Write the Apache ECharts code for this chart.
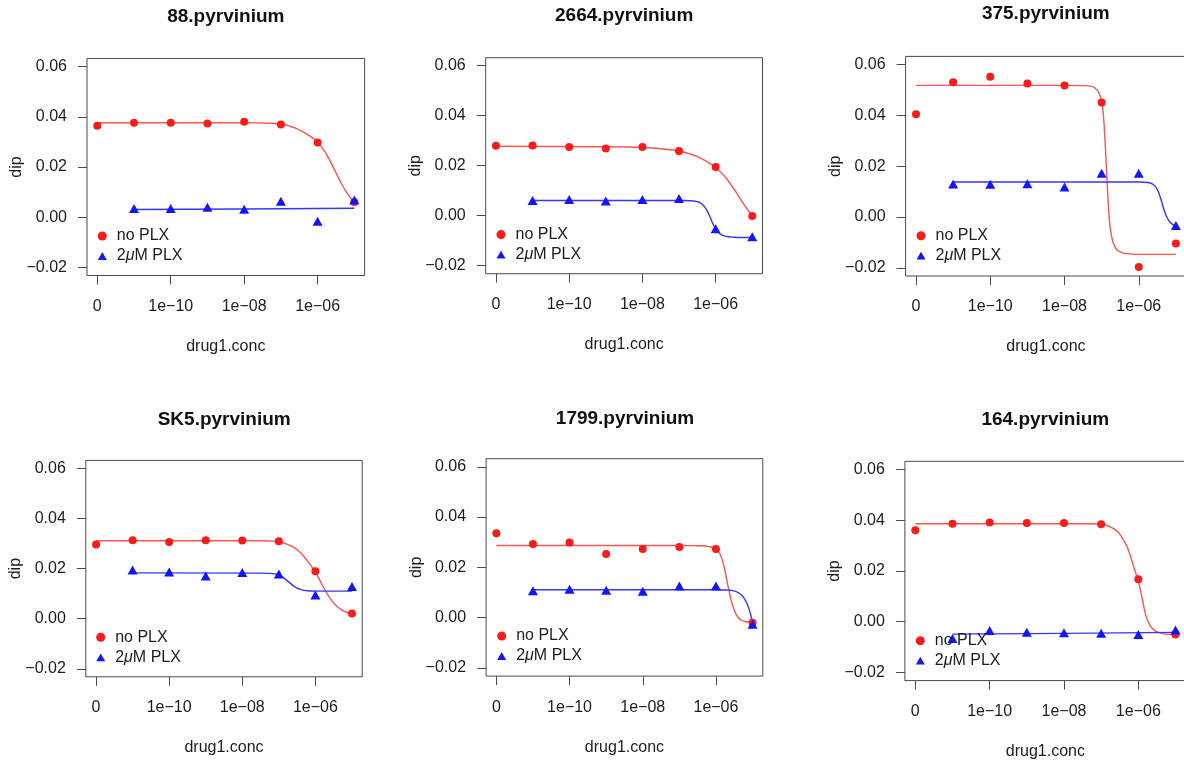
<!DOCTYPE html>
<html>
<head>
<meta charset="utf-8">
<title>pyrvinium dose response</title>
<script src="https://cdn.jsdelivr.net/npm/echarts@6/dist/echarts.min.js"></script>
<style>
  html, body { margin: 0; padding: 0; background: #ffffff; }
  #chart { width: 1184px; height: 763px; }
</style>
</head>
<body>
<div id="chart"></div>
<script>
// log10 of drug concentration; the zero dose is drawn one decade below the lowest dose
const xLogPos = [-12, -11, -10, -9, -8, -7, -6, -5];
const xTickPos = [-12, -10, -8, -6];
const xTickLabels = ['0', '1e\u221210', '1e\u221208', '1e\u221206'];
const yTickVals = [-0.02, 0, 0.02, 0.04, 0.06];

const panelTitles = ['88.pyrvinium', '2664.pyrvinium', '375.pyrvinium',
                     'SK5.pyrvinium', '1799.pyrvinium', '164.pyrvinium'];

// measured DIP rates (no PLX has a zero-dose point, 2uM PLX does not)
const dip_88_noPLX   = [0.0364, 0.0376, 0.0376, 0.0373, 0.0380, 0.0369, 0.0298, 0.0061];
const dip_88_PLX     = [null, 0.0035, 0.0035, 0.0040, 0.0032, 0.0064, -0.0016, 0.0069];
const dip_2664_noPLX = [0.0280, 0.0281, 0.0275, 0.0269, 0.0275, 0.0259, 0.0195, -0.0001];
const dip_2664_PLX   = [null, 0.0061, 0.0065, 0.0059, 0.0065, 0.0069, -0.0052, -0.0084];
const dip_375_noPLX  = [0.0404, 0.0530, 0.0552, 0.0525, 0.0518, 0.0451, -0.0197, -0.0104];
const dip_375_PLX    = [null, 0.0130, 0.0129, 0.0131, 0.0118, 0.0172, 0.0172, -0.0033];
const dip_SK5_noPLX  = [0.0296, 0.0313, 0.0306, 0.0313, 0.0312, 0.0309, 0.0189, 0.0021];
const dip_SK5_PLX    = [null, 0.0194, 0.0186, 0.0170, 0.0184, 0.0178, 0.0095, 0.0129];
const dip_1799_noPLX = [0.0336, 0.0293, 0.0299, 0.0253, 0.0273, 0.0281, 0.0273, -0.0020];
const dip_1799_PLX   = [null, 0.0107, 0.0113, 0.0109, 0.0105, 0.0126, 0.0126, -0.0026];
const dip_164_noPLX  = [0.0360, 0.0386, 0.0391, 0.0389, 0.0389, 0.0384, 0.0167, -0.0050];
const dip_164_PLX    = [null, -0.0066, -0.0035, -0.0042, -0.0043, -0.0045, -0.0050, -0.0033];

// fitted dose-response curves, sampled as [log10 conc, dip]
const fit_88_noPLX = [[-12, 0.0376], [-8, 0.0376], [-7.5, 0.0375], [-7.25, 0.0374], [-7, 0.0371],
  [-6.75, 0.0362], [-6.5, 0.0348], [-6.25, 0.0327], [-6, 0.0299], [-5.75, 0.0248], [-5.5, 0.0177],
  [-5.25, 0.0108], [-5, 0.0058]];
const fit_88_PLX = [[-11, 0.0031], [-8, 0.0033], [-5, 0.0036]];

const fit_2664_noPLX = [[-12, 0.0278], [-9, 0.0276], [-8.5, 0.0275], [-8, 0.0273], [-7.75, 0.0271],
  [-7.5, 0.0268], [-7.25, 0.0264], [-7, 0.0259], [-6.75, 0.0249], [-6.5, 0.0236], [-6.25, 0.0217],
  [-6, 0.0193], [-5.75, 0.0157], [-5.5, 0.0107], [-5.25, 0.0050], [-5, -0.0002]];
const fit_2664_PLX = [[-11, 0.0061], [-7, 0.0061], [-6.75, 0.0060], [-6.6, 0.0059], [-6.5, 0.0056],
  [-6.4, 0.0050], [-6.3, 0.0035], [-6.2, 0.0010], [-6.1, -0.0024], [-6.0, -0.0052], [-5.9, -0.0070],
  [-5.8, -0.0079], [-5.7, -0.0083], [-5.5, -0.0086], [-5.25, -0.0087], [-5, -0.0087]];

const fit_375_noPLX = [[-12, 0.0518], [-8, 0.0518], [-7.5, 0.0517], [-7.25, 0.0513], [-7.15, 0.0503],
  [-7.07, 0.0487], [-7.0, 0.0455], [-6.95, 0.0395], [-6.9, 0.0275], [-6.85, 0.0130], [-6.8, 0.0005],
  [-6.75, -0.0060], [-6.65, -0.0115], [-6.5, -0.0137], [-6.25, -0.0145], [-6, -0.0147], [-5, -0.0147]];
const fit_375_PLX = [[-11, 0.0138], [-6, 0.0138], [-5.75, 0.0136], [-5.6, 0.0127], [-5.5, 0.0108],
  [-5.4, 0.0068], [-5.3, 0.0020], [-5.2, -0.0012], [-5.1, -0.0028], [-5, -0.0035]];

const fit_SK5_noPLX = [[-12, 0.0311], [-8, 0.0311], [-7.5, 0.0311], [-7.25, 0.0310], [-7, 0.0306],
  [-6.75, 0.0296], [-6.5, 0.0275], [-6.25, 0.0237], [-6, 0.0185], [-5.75, 0.0118], [-5.5, 0.0062],
  [-5.25, 0.0032], [-5, 0.0020]];
const fit_SK5_PLX = [[-11, 0.0183], [-7.5, 0.0182], [-7.25, 0.0181], [-7.1, 0.0178], [-7, 0.0174],
  [-6.9, 0.0166], [-6.8, 0.0155], [-6.7, 0.0143], [-6.6, 0.0131], [-6.5, 0.0122], [-6.4, 0.0116],
  [-6.25, 0.0112], [-6, 0.0110], [-5, 0.0110]];

const fit_1799_noPLX = [[-12, 0.0287], [-7, 0.0287], [-6.5, 0.0286], [-6.3, 0.0285], [-6.2, 0.0283],
  [-6.1, 0.0280], [-6.0, 0.0274], [-5.9, 0.0256], [-5.8, 0.0215], [-5.7, 0.0147], [-5.6, 0.0079],
  [-5.5, 0.0030], [-5.4, 0.0002], [-5.3, -0.0010], [-5.2, -0.0015], [-5.1, -0.0018], [-5, -0.0019]];
const fit_1799_PLX = [[-11, 0.0111], [-6, 0.0111], [-5.7, 0.0110], [-5.6, 0.0109], [-5.5, 0.0106],
  [-5.4, 0.0100], [-5.3, 0.0090], [-5.2, 0.0070], [-5.12, 0.0045], [-5.05, 0.0012], [-5, -0.0024]];

const fit_164_noPLX = [[-12, 0.0386], [-8, 0.0386], [-7.5, 0.0386], [-7, 0.0385], [-6.8, 0.0377],
  [-6.6, 0.0360], [-6.5, 0.0345], [-6.4, 0.0322], [-6.3, 0.0294], [-6.2, 0.0253], [-6.1, 0.0205],
  [-6.0, 0.0158], [-5.9, 0.0094], [-5.8, 0.0026], [-5.7, -0.0011], [-5.6, -0.0030], [-5.5, -0.0040],
  [-5.3, -0.0048], [-5, -0.0051]];
const fit_164_PLX = [[-11, -0.0049], [-8, -0.0046], [-5, -0.0042]];

const panels = [
  { title: panelTitles[0], noPLX: dip_88_noPLX,   PLX: dip_88_PLX,   fitNo: fit_88_noPLX,   fitPLX: fit_88_PLX },
  { title: panelTitles[1], noPLX: dip_2664_noPLX, PLX: dip_2664_PLX, fitNo: fit_2664_noPLX, fitPLX: fit_2664_PLX },
  { title: panelTitles[2], noPLX: dip_375_noPLX,  PLX: dip_375_PLX,  fitNo: fit_375_noPLX,  fitPLX: fit_375_PLX },
  { title: panelTitles[3], noPLX: dip_SK5_noPLX,  PLX: dip_SK5_PLX,  fitNo: fit_SK5_noPLX,  fitPLX: fit_SK5_PLX },
  { title: panelTitles[4], noPLX: dip_1799_noPLX, PLX: dip_1799_PLX, fitNo: fit_1799_noPLX, fitPLX: fit_1799_PLX },
  { title: panelTitles[5], noPLX: dip_164_noPLX,  PLX: dip_164_PLX,  fitNo: fit_164_noPLX,  fitPLX: fit_164_PLX }
];

// panel layout (plot boxes, title centres, legend anchors)
const gridBoxes = [
  { left: 87,    top: 58.5,  width: 277.6, height: 217 },
  { left: 485.7, top: 57.7,  width: 276.8, height: 216 },
  { left: 905.6, top: 56.4,  width: 280.7, height: 219.6 },
  { left: 85.8,  top: 460.4, width: 276.4, height: 216.4 },
  { left: 486.1, top: 458.7, width: 276.7, height: 217.4 },
  { left: 904.9, top: 461.3, width: 281,   height: 219.3 }
];
const titleAnchors = [[225.8, 17.3], [624.2, 16.7], [1045.8, 14.7], [224.2, 420], [625, 419], [1045.3, 420]];
const legendAnchors = [[102.3, 236], [501, 234.6], [921, 235.7], [100.7, 637.3], [501.7, 636], [920.3, 640.7]];

const FONT = '"Liberation Sans", Arial, Helvetica, sans-serif';
const TEXT = '#1c1c1c';
const FRAME = '#4a4a4a';
const RED = '#ff1a1a';
const BLUE = '#1414ff';
const NAME_NO = 'no PLX';
const NAME_PLX = '2\u03bcM PLX';
// filled equilateral triangle, as used for the plotting symbol
const TRIANGLE_ICON = 'path://M5,0L10,8.66L0,8.66Z';

const X_MIN = -12.28, X_MAX = -4.72;
const Y_MIN = -0.0232, Y_MAX = 0.0632;

function fmtY(v) {
  const s = Math.abs(v).toFixed(2);
  return v < -1e-9 ? '\u2212' + s : s;
}

const grid = [], xAxis = [], yAxis = [], series = [], title = [], legend = [];

panels.forEach((p, i) => {
  grid.push(Object.assign({
    show: true, borderColor: FRAME, borderWidth: 1, backgroundColor: 'transparent',
    containLabel: false, outerBoundsMode: 'none'
  }, gridBoxes[i]));

  xAxis.push({
    gridIndex: i, type: 'value', min: X_MIN, max: X_MAX, position: 'bottom',
    axisLine: { show: false, onZero: false },
    splitLine: { show: false },
    axisTick: { show: true, inside: false, length: 9, lineStyle: { color: FRAME, width: 1 }, customValues: xTickPos },
    axisLabel: {
      customValues: xTickPos, margin: 23, fontSize: 16, fontFamily: FONT, color: TEXT,
      formatter: v => xTickLabels[xTickPos.indexOf(Math.round(v))] || ''
    },
    name: 'drug1.conc', nameLocation: 'middle', nameGap: 63, nameMoveOverlap: false,
    nameTextStyle: { fontSize: 16, fontFamily: FONT, color: TEXT }
  });

  yAxis.push({
    gridIndex: i, type: 'value', min: Y_MIN, max: Y_MAX, position: 'left',
    axisLine: { show: false, onZero: false },
    splitLine: { show: false },
    axisTick: { show: true, inside: false, length: 9, lineStyle: { color: FRAME, width: 1 }, customValues: yTickVals },
    axisLabel: { customValues: yTickVals, margin: 20, fontSize: 16, fontFamily: FONT, color: TEXT, formatter: fmtY },
    name: 'dip', nameLocation: 'middle', nameGap: 62, nameRotate: 90, nameMoveOverlap: false,
    nameTextStyle: { fontSize: 16, fontFamily: FONT, color: TEXT }
  });

  title.push({
    text: p.title, left: titleAnchors[i][0], top: titleAnchors[i][1] - 10, textAlign: 'center', padding: 0,
    textStyle: { fontSize: 19, fontWeight: 'bold', fontFamily: FONT, color: '#111' }
  });

  legend.push({
    orient: 'vertical', left: legendAnchors[i][0] - 4.5, top: legendAnchors[i][1] - 8,
    itemWidth: 9, itemHeight: 9, itemGap: 4, padding: 0, selectedMode: false,
    data: [{ name: NAME_NO, icon: 'circle' }, { name: NAME_PLX, icon: TRIANGLE_ICON }],
    formatter: n => n === NAME_PLX ? '2{mu|\u03bc}M PLX' : n,
    textStyle: {
      fontSize: 16, fontFamily: FONT, color: TEXT, lineHeight: 16, padding: [0, 0, 0, 5],
      rich: { mu: { fontSize: 16, fontFamily: FONT, color: TEXT, fontStyle: 'italic', lineHeight: 16 } }
    }
  });

  series.push({
    name: NAME_NO + ' fit', type: 'line', xAxisIndex: i, yAxisIndex: i,
    data: p.fitNo, smooth: 0.5, showSymbol: false, silent: true,
    lineStyle: { color: '#ff5252', width: 1.4 }, z: 2
  });
  series.push({
    name: NAME_PLX + ' fit', type: 'line', xAxisIndex: i, yAxisIndex: i,
    data: p.fitPLX, smooth: 0.5, showSymbol: false, silent: true,
    lineStyle: { color: '#3636ff', width: 1.4 }, z: 2
  });
  series.push({
    name: NAME_NO, type: 'scatter', xAxisIndex: i, yAxisIndex: i,
    data: xLogPos.map((x, k) => [x, p.noPLX[k]]).filter(d => d[1] !== null),
    symbol: 'circle', symbolSize: 8, itemStyle: { color: RED, opacity: 1 }, z: 3
  });
  series.push({
    name: NAME_PLX, type: 'scatter', xAxisIndex: i, yAxisIndex: i,
    data: xLogPos.map((x, k) => [x, p.PLX[k]]).filter(d => d[1] !== null),
    symbol: 'triangle', symbolSize: [10, 9], itemStyle: { color: BLUE, opacity: 1 }, z: 3
  });
});

const chart = echarts.init(document.getElementById('chart'), null, { renderer: 'canvas' });
chart.setOption({
  animation: false,
  backgroundColor: '#ffffff',
  title, legend, grid, xAxis, yAxis, series
});
</script>
</body>
</html>
